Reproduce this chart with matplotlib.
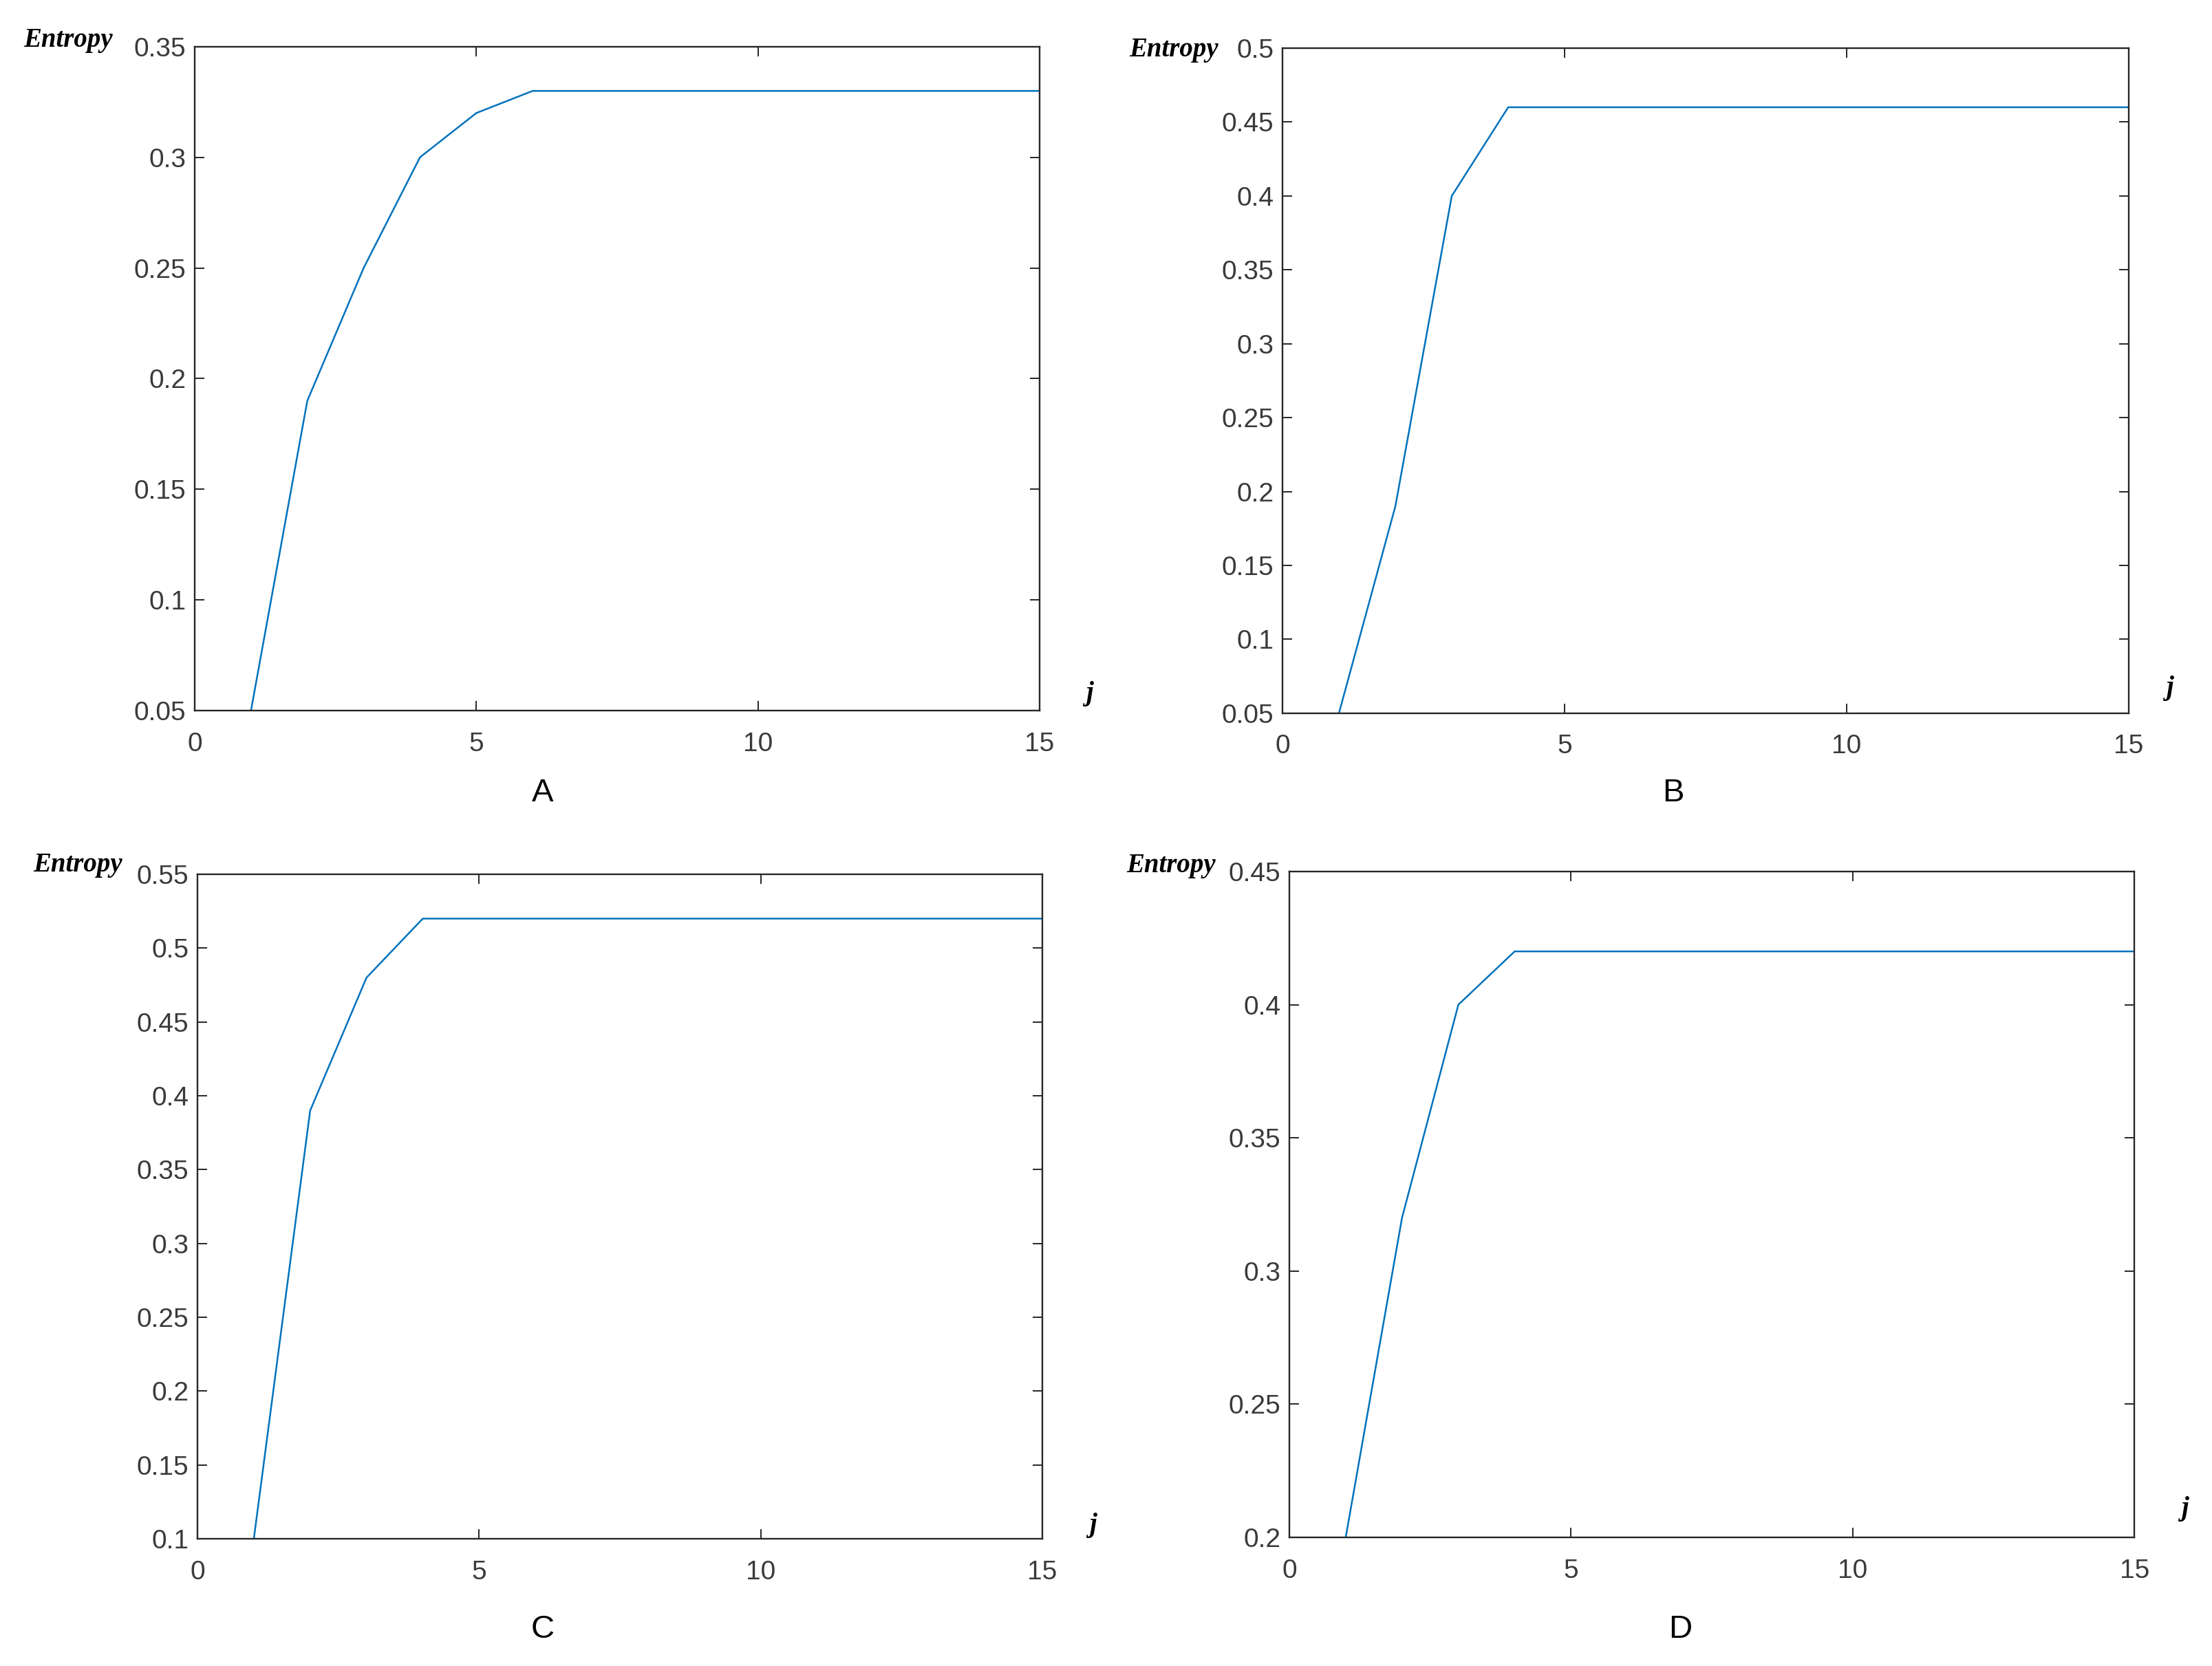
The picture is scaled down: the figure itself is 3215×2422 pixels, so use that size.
import matplotlib
matplotlib.use('Agg')
import matplotlib.pyplot as plt
from matplotlib.ticker import FormatStrFormatter
import numpy as np

# iteration index j
j = np.arange(1, 16)

entropy_a = [0.05, 0.19, 0.25, 0.30, 0.32, 0.33, 0.33, 0.33, 0.33, 0.33, 0.33, 0.33, 0.33, 0.33, 0.33]
entropy_b = [0.05, 0.19, 0.40, 0.46, 0.46, 0.46, 0.46, 0.46, 0.46, 0.46, 0.46, 0.46, 0.46, 0.46, 0.46]
entropy_c = [0.10, 0.39, 0.48, 0.52, 0.52, 0.52, 0.52, 0.52, 0.52, 0.52, 0.52, 0.52, 0.52, 0.52, 0.52]
entropy_d = [0.20, 0.32, 0.40, 0.42, 0.42, 0.42, 0.42, 0.42, 0.42, 0.42, 0.42, 0.42, 0.42, 0.42, 0.42]

panel_names = ['A', 'B', 'C', 'D']
y_limits = [(0.05, 0.35), (0.05, 0.5), (0.1, 0.55), (0.2, 0.45)]
y_steps = [0.05, 0.05, 0.05, 0.05]
x_ticks = [0, 5, 10, 15]

plt.rcParams['font.family'] = ['Liberation Sans', 'DejaVu Sans']

fig = plt.figure(figsize=(32.15, 24.22), dpi=100)

# axes boxes [left, bottom, width, height] in figure fraction
boxes = [
    [0.0880, 0.5735, 0.3820, 0.3985],
    [0.5798, 0.5719, 0.3826, 0.3992],
    [0.0893, 0.0764, 0.3819, 0.3988],
    [0.5829, 0.0772, 0.3820, 0.3997],
]
entropy_pos = [(-0.097, 1.000), (-0.076, 0.988), (-0.089, 1.004), (-0.087, 0.999)]
j_pos = [(1.059, 0.016), (1.048, 0.028), (1.060, 0.010), (1.060, 0.033)]
label_pos = [(0.2454, 0.524), (0.7565, 0.524), (0.2454, 0.022), (0.7596, 0.022)]

series = [entropy_a, entropy_b, entropy_c, entropy_d]
tick_col = '#3a3a3a'
serif = ['Liberation Serif', 'DejaVu Serif']

for i in range(4):
    ax = fig.add_axes(boxes[i])
    ax.plot(j, series[i], color='#0072BD', linewidth=1.8)
    lo, hi = y_limits[i]
    ax.set_xlim(0, 15)
    ax.set_ylim(lo, hi)
    ax.set_xticks(x_ticks)
    ax.set_yticks(np.round(np.arange(lo, hi + 1e-9, y_steps[i]), 2))
    ax.yaxis.set_major_formatter(FormatStrFormatter('%g'))
    ax.tick_params(direction='in', length=10, width=1.4, colors='#262626',
                   labelcolor=tick_col, labelsize=28, top=True, right=True)
    ax.tick_params(axis='x', pad=22)
    ax.tick_params(axis='y', pad=9)
    for s in ax.spines.values():
        s.set_linewidth(1.7)
        s.set_color('#262626')

    ex, ey = entropy_pos[i]
    ax.text(ex, ey, 'Entropy', transform=ax.transAxes, ha='right', va='baseline',
            fontsize=28, fontstyle='italic', fontweight='bold', family=serif)
    jx, jy = j_pos[i]
    ax.text(jx, jy, 'j', transform=ax.transAxes, ha='center', va='baseline',
            fontsize=28, fontstyle='italic', fontweight='bold', family=serif)

    lx, ly = label_pos[i]
    fig.text(lx, ly, panel_names[i], ha='center', va='center', fontsize=34)

fig.savefig('out.png', dpi=100, facecolor='white')
